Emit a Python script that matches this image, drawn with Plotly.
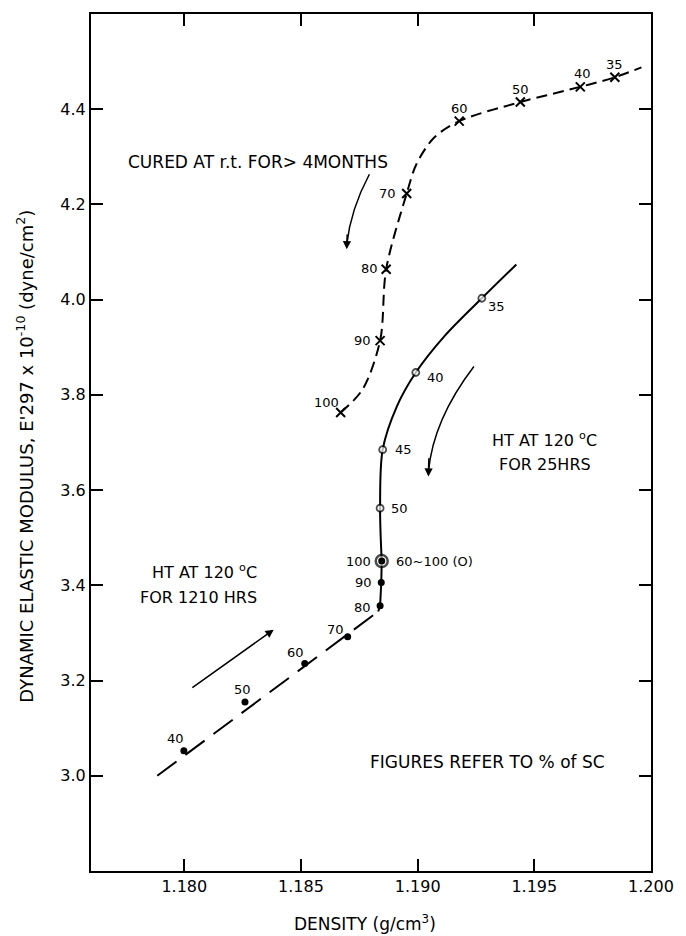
import plotly.graph_objects as go

# ---- data: density (g/cm3) vs dynamic elastic modulus E'297 x 1e-10 (dyne/cm2) ----
# Cured at room temperature for > 4 months (x markers)
cured_sc = ["100", "90", "80", "70", "60", "50", "40", "35"]
cured_density = [1.18670, 1.18839, 1.18865, 1.18953, 1.19178, 1.19440, 1.19697, 1.19845]
cured_modulus = [3.763, 3.914, 4.064, 4.223, 4.375, 4.415, 4.447, 4.467]

# Heat treated at 120 C for 25 hrs (open circles)
ht25_sc = ["35", "40", "45", "50", "60~100 (O)"]
ht25_density = [1.19275, 1.18992, 1.18850, 1.18839, 1.18846]
ht25_modulus = [4.003, 3.847, 3.685, 3.562, 3.451]

# Heat treated at 120 C for 1210 hrs (filled dots)
ht1210_sc = ["40", "50", "60", "70", "80", "90", "100"]
ht1210_density = [1.17998, 1.18260, 1.18516, 1.18700, 1.18839, 1.18844, 1.18846]
ht1210_modulus = [3.0525, 3.155, 3.236, 3.292, 3.357, 3.406, 3.451]

# hand-drawn trend curves through each series
cured_curve_x = [1.18670, 1.18763, 1.18839, 1.18865, 1.18953, 1.18995, 1.19070, 1.19178,
                 1.19440, 1.19697, 1.19845, 1.19959]
cured_curve_y = [3.763, 3.811, 3.914, 4.064, 4.223, 4.285, 4.340, 4.375,
                 4.415, 4.447, 4.467, 4.488]
ht25_curve_x = [1.18846, 1.18839, 1.18850, 1.18911, 1.18992, 1.19114, 1.19275, 1.19423]
ht25_curve_y = [3.451, 3.562, 3.685, 3.776, 3.847, 3.923, 4.003, 4.074]
ht1210_top_x = [1.18831, 1.18839, 1.18844, 1.18846]
ht1210_top_y = [3.345, 3.357, 3.406, 3.451]
ht1210_low_x = [1.17884, 1.18831]
ht1210_low_y = [3.000, 3.345]

x_ticks = [1.180, 1.185, 1.190, 1.195, 1.200]
x_tick_text = ["1.180", "1.185", "1.190", "1.195", "1.200"]
y_ticks = [3.0, 3.2, 3.4, 3.6, 3.8, 4.0, 4.2, 4.4]
y_tick_text = ["3.0", "3.2", "3.4", "3.6", "3.8", "4.0", "4.2", "4.4"]

FONT = "DejaVu Sans"
INK = "black"

fig = go.Figure()

# trend curves
fig.add_trace(go.Scatter(x=cured_curve_x, y=cured_curve_y, mode="lines",
                         line=dict(color=INK, width=2, dash="11px,6px", shape="spline", smoothing=0.9),
                         hoverinfo="skip"))
fig.add_trace(go.Scatter(x=ht25_curve_x, y=ht25_curve_y, mode="lines",
                         line=dict(color=INK, width=2, shape="spline", smoothing=0.9),
                         hoverinfo="skip"))
fig.add_trace(go.Scatter(x=ht1210_top_x, y=ht1210_top_y, mode="lines",
                         line=dict(color=INK, width=2), hoverinfo="skip"))
fig.add_trace(go.Scatter(x=ht1210_low_x, y=ht1210_low_y, mode="lines",
                         line=dict(color=INK, width=2, dash="24px,11px"), hoverinfo="skip"))

# markers
fig.add_trace(go.Scatter(x=cured_density, y=cured_modulus, mode="markers",
                         marker=dict(symbol="x-thin-open", size=9, color=INK,
                                     line=dict(color=INK, width=2))))
ht25_sizes = [7] * (len(ht25_sc) - 1) + [12]
ht25_widths = [1.8] * (len(ht25_sc) - 1) + [2.5]
fig.add_trace(go.Scatter(x=ht25_density, y=ht25_modulus, mode="markers",
                         marker=dict(symbol="circle", size=ht25_sizes, color="white",
                                     line=dict(color=INK, width=ht25_widths))))
fig.add_trace(go.Scatter(x=ht1210_density, y=ht1210_modulus, mode="markers",
                         marker=dict(symbol="circle", size=7, color=INK)))

annotations = []

def label(x, y, text, dx, dy, anchor="center"):
    annotations.append(dict(x=x, y=y, text=text, showarrow=False, xshift=dx, yshift=dy,
                            xanchor=anchor, yanchor="middle",
                            font=dict(family=FONT, size=13, color=INK)))

# point labels (% of SC)
cured_off = [(-14, 10), (-18, 0), (-17, 1), (-19, 0), (0, 13), (0, 13), (2, 13), (0, 13)]
for x, y, t, (dx, dy) in zip(cured_density, cured_modulus, cured_sc, cured_off):
    label(x, y, t, dx, dy)
ht25_off = [(15, -8), (20, -5), (21, 0), (19, 0)]
for x, y, t, (dx, dy) in zip(ht25_density[:-1], ht25_modulus[:-1], ht25_sc[:-1], ht25_off):
    label(x, y, t, dx, dy)
label(ht25_density[-1], ht25_modulus[-1], ht25_sc[-1], 12, 0, "left")
ht1210_off = [(-8, 12), (-3, 12), (-9, 11), (-12, 7), (-18, -2), (-18, 0)]
for x, y, t, (dx, dy) in zip(ht1210_density[:-1], ht1210_modulus[:-1], ht1210_sc[:-1], ht1210_off):
    label(x, y, t, dx, dy)
label(ht1210_density[-1], ht1210_modulus[-1], ht1210_sc[-1], -9, 0, "right")

# descriptive notes
def note(x, y, text, size=17):
    annotations.append(dict(x=x, y=y, text=text, showarrow=False, xanchor="center",
                            yanchor="middle", font=dict(family=FONT, size=size, color=INK)))

note(1.18316, 4.2886, "CURED AT r.t. FOR> 4MONTHS")
note(1.19545, 3.7063, "HT AT 120 <sup>o</sup>C", 16)
note(1.19545, 3.6537, "FOR 25HRS", 16)
note(1.18085, 3.4288, "HT AT 120 <sup>o</sup>C", 16)
note(1.18062, 3.3742, "FOR 1210 HRS", 16)
note(1.19298, 3.0296, "FIGURES REFER TO % of SC")

# arrowheads
def head(x, y, ax, ay):
    annotations.append(dict(x=x, y=y, ax=ax, ay=ay, xref="x", yref="y", axref="x", ayref="y",
                            showarrow=True, arrowhead=2, arrowsize=1.1, arrowwidth=1.5,
                            arrowcolor=INK, text=""))

head(1.18696, 4.1057, 1.18698, 4.14)
head(1.19046, 3.6285, 1.19048, 3.67)
head(1.18383, 3.3069, 1.18028, 3.1829)

# axis titles
annotations.append(dict(xref="paper", yref="paper", x=-0.117, y=0.484, textangle=-90,
                        showarrow=False, xanchor="center", yanchor="middle",
                        text="DYNAMIC ELASTIC MODULUS, E'297 x 10<sup>-10</sup> (dyne/cm<sup>2</sup>)",
                        font=dict(family=FONT, size=18, color=INK)))
annotations.append(dict(xref="paper", yref="paper", x=0.4895, y=-0.061,
                        showarrow=False, xanchor="center", yanchor="middle",
                        text="DENSITY (g/cm<sup>3</sup>)",
                        font=dict(family=FONT, size=17, color=INK)))

# curved arrow shafts
shapes = [
    dict(type="path", xref="x", yref="y",
         path="M 1.18793,4.2634 Q 1.18713,4.1898 1.18696,4.1157",
         line=dict(color=INK, width=1.5)),
    dict(type="path", xref="x", yref="y",
         path="M 1.19241,3.8597 Q 1.19067,3.7483 1.19046,3.6385",
         line=dict(color=INK, width=1.5)),
]

fig.update_layout(
    width=686, height=936,
    margin=dict(l=91, r=23, t=14, b=65),
    paper_bgcolor="white", plot_bgcolor="white",
    showlegend=False,
    annotations=annotations,
    shapes=shapes,
    xaxis=dict(range=[1.176, 1.200], tickvals=x_ticks, ticktext=x_tick_text,
               ticks="inside", ticklen=12, tickwidth=1.5, tickcolor=INK,
               showline=True, linewidth=2, linecolor=INK, mirror="ticks",
               showgrid=False, zeroline=False,
               tickfont=dict(family=FONT, size=16, color=INK)),
    yaxis=dict(range=[2.8, 4.6], tickvals=y_ticks, ticktext=y_tick_text,
               ticks="inside", ticklen=12, tickwidth=1.5, tickcolor=INK,
               showline=True, linewidth=2, linecolor=INK, mirror="ticks",
               showgrid=False, zeroline=False,
               tickfont=dict(family=FONT, size=16, color=INK)),
)

fig.write_html("out.html")
